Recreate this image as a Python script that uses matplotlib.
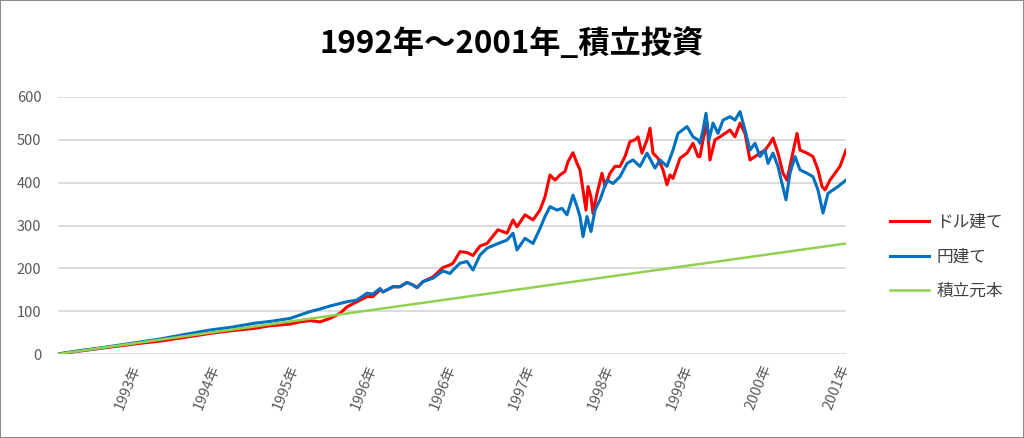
import matplotlib.pyplot as plt
from matplotlib.patches import Rectangle

plt.rcParams['font.family'] = ['Noto Sans CJK JP', 'DejaVu Sans']

# pixel x positions (58 = start, 846 = last tick)
early_px = [58, 80, 100, 120, 140, 160, 188, 210, 230, 255, 270, 290, 300, 310, 320,
            330, 340, 347, 357, 367, 373, 380, 383, 393, 400, 407, 413, 417, 423, 433,
            443, 450, 453, 460, 467, 473, 480, 487, 498, 507, 513, 517, 525, 533]
dollar_early = [0, 7, 13, 19, 25, 30, 40, 48, 54, 60, 66, 70, 75, 78, 75,
                83, 95, 110, 122, 134, 134, 150, 145, 157, 157, 167, 161, 155, 169, 180,
                202, 208, 212, 239, 237, 230, 252, 258, 290, 282, 313, 297, 325, 313]
yen_early = [0, 8, 14, 21, 28, 35, 47, 56, 62, 72, 76, 83, 91, 99, 105,
             112, 118, 122, 126, 142, 140, 153, 145, 157, 157, 167, 161, 155, 169, 177,
             194, 188, 196, 212, 216, 196, 231, 247, 258, 266, 282, 243, 270, 258]

dollar_late_px = [540, 545, 550, 555, 560, 565, 568, 573, 577, 580, 583, 586, 588, 591,
                  593, 597, 602, 605, 610, 615, 620, 625, 630, 635, 638, 642, 647, 650,
                  653, 658, 663, 667, 670, 673, 680, 687, 693, 698, 700, 703, 707, 710,
                  715, 720, 725, 730, 735, 740, 745, 750, 755, 760, 765, 770, 773, 778,
                  783, 787, 792, 797, 800, 807, 813, 818, 822, 825, 830, 835, 840, 846]
dollar_late = [336, 367, 418, 406, 418, 426, 449, 470, 445, 430, 383, 336, 391, 367,
               328, 375, 422, 391, 422, 438, 438, 461, 496, 500, 507, 469, 500, 527,
               469, 457, 430, 395, 418, 410, 457, 469, 492, 461, 461, 500, 539, 453,
               500, 507, 515, 523, 507, 539, 515, 453, 461, 469, 476, 492, 504, 469,
               422, 406, 461, 515, 476, 469, 461, 430, 391, 383, 406, 422, 438, 476]

yen_late_px = [540, 545, 550, 557, 562, 567, 573, 577, 580, 583, 587, 591, 595, 600,
               607, 613, 620, 627, 633, 640, 647, 655, 660, 667, 673, 678, 687, 693,
               698, 700, 703, 706, 709, 713, 718, 723, 730, 735, 740, 745, 750, 755,
               760, 765, 768, 773, 778, 782, 786, 790, 795, 800, 807, 813, 818, 823,
               828, 833, 838, 846]
yen_late = [293, 321, 344, 336, 340, 325, 371, 344, 321, 274, 321, 286, 336, 360,
            406, 398, 414, 445, 453, 438, 469, 434, 453, 438, 476, 515, 531, 507,
            500, 492, 523, 562, 500, 539, 515, 546, 554, 546, 566, 523, 476, 492,
            461, 476, 445, 469, 438, 398, 360, 422, 461, 430, 422, 414, 383, 329,
            375, 383, 391, 406]

# principal: straight line from start to end
principal_px = [58, 846]
principal = [0, 258]

tick_pos = [1, 2, 3, 4, 5, 6, 7, 8, 9, 10]
tick_labels = ['1993年', '1994年', '1995年', '1996年', '1996年',
               '1997年', '1998年', '1999年', '2000年', '2001年']


def to_x(px):
    return [(p - 58) / 78.8 for p in px]


fig = plt.figure(figsize=(10.24, 4.38), dpi=100)
ax = fig.add_axes([58 / 1024, 1 - 354 / 438, (846 - 58) / 1024, (354 - 97) / 438])

ax.plot(to_x(early_px + dollar_late_px), dollar_early + dollar_late,
        color='#FF0000', lw=2.2, label='ドル建て', zorder=3)
ax.plot(to_x(early_px + yen_late_px), yen_early + yen_late,
        color='#0070C0', lw=2.2, label='円建て', zorder=4)
ax.plot(to_x(principal_px), principal, color='#92D050', lw=1.8,
        label='積立元本', zorder=5)

ax.set_xlim(0, 10)
ax.set_ylim(0, 600)
ax.set_yticks(range(0, 601, 100))
ax.set_xticks(tick_pos)
ax.set_xticklabels(tick_labels, rotation=68, ha='right', va='center',
                   rotation_mode='anchor')
ax.tick_params(axis='both', length=0, colors='#595959', labelsize=10.5)
ax.tick_params(axis='y', pad=12)
ax.tick_params(axis='x', pad=8)
ax.grid(axis='y', color='#D9D9D9', lw=1.3)
ax.set_axisbelow(True)
for s in ax.spines.values():
    s.set_visible(False)

fig.text(0.5, 1 - 44 / 438, '1992年～2001年_積立投資', ha='center', va='center',
         fontsize=22.5, fontweight='bold', color='black')

fig.legend(loc='center left', bbox_to_anchor=(882 / 1024, 1 - 257 / 438),
           frameon=False, fontsize=12, labelspacing=1.05, handlelength=2.3,
           handletextpad=0.45, borderpad=0, labelcolor='#404040')

fig.add_artist(Rectangle((0, 0), 1, 1, transform=fig.transFigure, fill=False,
                         edgecolor='#8C8C8C', lw=1.5))

fig.savefig('out.png', dpi=100)
